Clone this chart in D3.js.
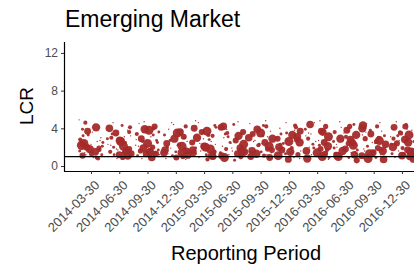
<!DOCTYPE html>
<html>
<head>
<meta charset="utf-8">
<script src="https://cdn.jsdelivr.net/npm/d3@7"></script>
<style>
  body { margin: 0; background: #fff; }
  text { font-family: "Liberation Sans", Arial, sans-serif; }
</style>
</head>
<body>
<div id="chart"></div>
<script>
var w = 414, h = 265;

// reporting periods (x categories)
var periods = ["2014-03-30","2014-06-30","2014-09-30","2014-12-30","2015-03-30","2015-06-30",
               "2015-09-30","2015-12-30","2016-03-30","2016-06-30","2016-09-30","2016-12-30"];
var yTicks = [0, 4, 8, 12];
var threshold = 1;

// LCR values per period
var lcr = [
  [4.9,4.6,4.1,3.9,3.6,3.3,3.0,2.8,2.6,2.4,2.2,2.1,2.0,1.9,1.8,1.7,1.6,1.5,1.4,1.3,1.2,1.1,0.9,0.8,3.7,2.5,1.9,1.6,4.4,3.2,2.7,1.2,0.9,2.3],
  [4.3,4.0,3.8,3.5,3.2,3.0,2.7,2.5,2.3,2.1,2.0,1.8,1.7,1.6,1.5,1.4,1.3,1.2,1.1,1.0,0.9,3.4,2.6,1.8,1.4,4.1,2.2,1.2,4.6,3.1,2.9,1.9,0.8,3.6],
  [4.5,4.2,3.9,3.6,3.4,3.1,2.9,2.7,2.4,2.2,2.0,1.9,1.7,1.6,1.5,1.4,1.3,1.2,1.1,0.9,0.8,3.8,2.5,1.6,4.0,2.8,1.5,1.3,4.7,3.3,2.1,1.0,3.7,2.6],
  [4.2,3.9,3.6,3.3,3.1,2.9,2.6,2.4,2.2,2.1,1.9,1.8,1.7,1.5,1.4,1.3,1.2,1.1,1.0,0.8,3.5,2.7,1.6,4.4,2.3,1.4,3.0,0.9,4.6,3.8,2.0,1.2,2.8,0.7],
  [4.6,4.3,4.0,3.7,3.5,3.2,3.0,2.8,2.5,2.3,2.1,1.9,1.8,1.6,1.5,1.4,1.2,1.1,0.9,0.7,3.6,2.6,1.7,4.1,2.0,1.3,3.3,1.0,4.8,3.9,2.4,1.5,2.9,1.1],
  [4.4,4.1,3.8,3.5,3.2,3.0,2.7,2.5,2.3,2.1,1.9,1.8,1.6,1.5,1.4,1.3,1.2,1.0,0.9,0.6,3.6,2.4,1.7,4.2,2.9,1.5,3.1,1.1,4.7,3.4,2.6,1.9,0.8,3.9],
  [4.5,4.2,3.9,3.7,3.4,3.2,2.9,2.7,2.5,2.3,2.1,1.9,1.8,1.6,1.5,1.4,1.3,1.1,1.0,0.8,3.5,2.6,1.7,4.3,3.0,1.2,2.2,0.9,4.8,3.6,2.4,1.5,3.1,1.0],
  [4.3,4.0,3.7,3.5,3.3,3.0,2.8,2.6,2.4,2.2,2.0,1.9,1.7,1.6,1.5,1.3,1.2,1.1,0.9,0.7,3.4,2.5,1.8,4.1,2.9,1.4,3.1,1.0,4.6,3.8,2.3,1.6,0.8,2.7],
  [4.6,4.2,3.9,3.6,3.4,3.1,2.9,2.7,2.5,2.3,2.1,2.0,1.8,1.6,1.5,1.4,1.2,1.1,0.9,0.8,3.7,2.6,1.7,4.4,2.2,1.3,3.2,1.0,4.8,3.5,2.8,1.9,1.2,0.7],
  [4.4,4.1,3.8,3.6,3.3,3.0,2.8,2.6,2.4,2.2,2.0,1.8,1.7,1.6,1.4,1.3,1.2,1.0,0.9,0.6,3.5,2.5,1.9,4.2,2.9,1.5,3.1,1.1,4.7,3.7,2.3,1.4,0.8,2.7],
  [4.5,4.2,4.0,3.7,3.4,3.2,2.9,2.7,2.5,2.3,2.1,1.9,1.8,1.6,1.5,1.3,1.2,1.1,0.9,0.7,3.6,2.6,1.7,4.3,3.0,1.4,2.2,0.8,4.6,3.8,2.4,1.6,1.0,3.3],
  [4.4,4.1,3.8,3.5,3.3,3.1,2.8,2.6,2.4,2.2,2.0,1.9,1.7,1.6,1.4,1.3,1.2,1.0,0.9,0.7,3.6,2.5,1.8,4.2,2.9,1.5,3.2,1.1,4.7,3.9,2.3,1.7,0.8,2.7]
];

// horizontal jitter inside each period (fraction of a period)
var jitter = [
  [-0.42,-0.2,0.18,-0.3,0.05,-0.1,0.35,-0.38,0.22,-0.25,-0.33,0.4,-0.15,0.1,-0.05,0.3,-0.4,0.15,-0.22,0.02,0.38,-0.3,0.08,0.25,-0.12,0.42,0.28,-0.02,0.12,-0.28,0.32,-0.18,0.2,0.0],
  [0.1,-0.35,0.3,-0.12,0.4,-0.28,0.02,0.22,-0.4,0.15,-0.2,0.35,-0.05,0.25,-0.32,0.08,0.42,-0.18,0.3,-0.38,0.12,-0.25,0.05,-0.1,0.2,0.38,-0.3,0.0,-0.22,0.18,-0.42,0.28,-0.08,0.35],
  [-0.3,0.25,-0.1,0.4,-0.38,0.12,-0.22,0.32,0.0,-0.42,0.18,-0.15,0.38,-0.28,0.08,0.28,-0.05,0.42,-0.35,0.15,-0.2,0.05,0.35,-0.25,0.22,-0.4,0.1,0.3,-0.12,0.2,-0.32,0.4,0.02,-0.18],
  [0.35,-0.25,0.15,-0.4,0.28,-0.05,0.4,-0.32,0.08,0.22,-0.18,0.32,-0.38,0.0,0.18,-0.28,0.42,-0.12,0.25,-0.35,0.05,-0.2,0.38,-0.08,0.12,-0.42,0.3,0.02,-0.15,0.22,-0.3,0.1,-0.22,0.35],
  [-0.2,0.38,-0.35,0.1,-0.05,0.3,-0.25,0.18,-0.42,0.4,0.0,-0.3,0.22,-0.12,0.35,-0.38,0.08,0.28,-0.18,0.12,-0.08,0.25,-0.4,0.42,0.05,-0.28,0.15,0.32,-0.3,0.2,-0.15,0.38,-0.02,0.1],
  [0.05,-0.4,0.32,-0.18,0.22,-0.3,0.12,-0.08,0.4,-0.35,0.28,-0.22,0.0,0.35,-0.42,0.18,-0.12,0.3,-0.28,0.08,0.38,-0.05,0.25,-0.32,0.15,0.42,-0.15,-0.38,0.2,-0.25,0.1,-0.02,0.3,-0.2],
  [-0.38,0.2,-0.12,0.35,-0.28,0.08,0.42,-0.2,0.15,-0.05,0.3,-0.4,0.25,-0.3,0.02,0.38,-0.15,0.12,-0.35,0.28,0.0,-0.25,0.4,0.1,-0.42,0.22,-0.08,0.32,0.18,-0.22,0.05,-0.35,0.25,-0.1],
  [0.22,-0.32,0.4,-0.08,0.12,-0.42,0.28,0.0,-0.2,0.35,-0.35,0.1,-0.25,0.42,0.05,-0.12,0.32,-0.38,0.18,-0.02,-0.28,0.38,-0.15,0.25,-0.4,0.08,0.3,-0.22,-0.1,0.2,-0.3,0.15,0.38,-0.05],
  [-0.1,0.3,-0.42,0.2,-0.22,0.4,-0.32,0.05,0.25,-0.15,0.38,-0.28,0.12,-0.38,0.32,0.0,-0.2,0.22,0.42,-0.35,0.15,-0.05,0.35,-0.25,0.08,0.28,-0.4,0.18,0.1,-0.3,0.25,-0.12,0.02,0.4],
  [0.3,-0.15,0.05,-0.38,0.38,-0.22,0.18,-0.42,0.1,0.28,-0.3,0.0,0.42,-0.1,0.2,-0.35,0.32,-0.25,0.12,0.4,-0.05,0.25,-0.4,0.15,-0.18,0.35,0.02,-0.3,-0.2,0.1,-0.32,0.22,0.38,-0.08],
  [-0.25,0.12,-0.4,0.28,-0.1,0.38,-0.3,0.2,-0.05,0.42,-0.22,0.15,-0.35,0.32,0.0,-0.15,0.25,-0.42,0.08,0.35,-0.28,0.1,0.3,-0.38,0.18,-0.02,0.4,-0.2,0.22,-0.12,0.05,-0.32,0.28,-0.4],
  [0.15,-0.28,0.35,-0.05,0.25,-0.4,0.1,0.42,-0.18,0.3,-0.32,0.02,0.2,-0.12,0.38,-0.35,0.05,0.28,-0.25,0.4,-0.08,0.22,-0.42,0.12,-0.3,0.32,-0.15,0.0,-0.2,0.18,-0.38,0.08,0.3,-0.1]
];

// bubble size (relative exposure)
var size = [
  [1,3,8,2,1,2,1,3,1,9,10,2,6,1,8,3,2,7,1,4,2,5,1,3,6,2,4,1,1,2,1,1,3,1],
  [2,7,1,6,1,3,8,2,1,9,2,5,1,7,3,1,6,2,8,1,4,2,9,1,5,3,1,6,1,1,2,1,1,3],
  [1,5,8,2,3,1,6,2,9,1,4,7,2,1,8,3,6,1,2,7,1,9,2,4,3,1,6,5,1,2,1,1,1,2],
  [3,1,7,2,5,8,1,6,2,9,1,3,7,2,6,1,8,2,4,1,9,2,6,1,3,7,2,5,1,1,2,1,1,1],
  [1,2,6,9,1,3,8,2,5,1,7,2,9,1,4,6,2,8,1,3,5,1,7,2,9,1,3,6,1,1,1,2,1,1],
  [2,6,1,3,8,1,5,2,9,1,7,3,1,8,2,6,1,4,9,2,5,1,3,7,1,8,2,6,1,2,1,1,1,1],
  [1,3,7,1,5,2,8,1,6,2,9,1,4,7,2,1,8,3,6,2,9,1,5,2,7,1,3,6,1,1,1,2,1,1],
  [3,1,6,2,8,1,5,9,2,1,7,3,6,1,8,2,4,9,1,6,2,8,1,3,5,2,7,1,1,1,2,1,1,1],
  [1,4,2,7,1,9,3,1,6,2,8,1,5,7,2,9,1,4,2,8,6,1,3,7,2,5,1,9,1,1,1,2,1,1],
  [2,1,6,3,8,1,7,2,4,9,1,6,2,8,1,3,7,9,2,5,1,6,2,4,8,1,3,7,1,1,1,1,2,1],
  [1,3,8,1,6,2,4,9,1,7,2,5,1,8,3,9,1,6,2,7,1,4,2,8,3,6,1,9,1,2,1,1,1,1],
  [2,6,1,4,9,1,7,2,5,1,8,3,6,1,9,2,4,7,1,6,2,8,1,5,3,9,2,7,1,1,2,1,1,1]
];

var margin = {left: 64, top: 42, bottom: 171};
var step = 28.27;

var svg = d3.select('#chart').append('svg')
  .attr('width', w)
  .attr('height', h);

var x = d3.scaleLinear()
  .domain([0, periods.length - 1])
  .range([91, 91 + step * (periods.length - 1)]);

var y = d3.scaleLinear()
  .domain([-0.53, 13.16])
  .range([margin.bottom, margin.top]);

var r = d3.scaleSqrt().domain([1, 10]).range([0.7, 4.8]);

// flatten to points
var pts = [];
periods.forEach(function(p, i) {
  lcr[i].forEach(function(v, j) {
    pts.push({i: i, v: v, j: jitter[i][j], s: size[i][j]});
  });
});

svg.append('defs').append('clipPath').attr('id', 'clip')
  .append('rect')
  .attr('x', margin.left).attr('y', margin.top)
  .attr('width', w - margin.left).attr('height', margin.bottom - margin.top);

svg.append('g').attr('clip-path', 'url(#clip)')
  .selectAll('circle')
  .data(pts)
  .enter().append('circle')
  .attr('cx', function(d) { return x(d.i + d.j); })
  .attr('cy', function(d) { return y(d.v); })
  .attr('r', function(d) { return r(d.s); })
  .style('fill', '#a52a2a')
  .style('opacity', 0.95);

// threshold line
svg.append('line')
  .attr('x1', margin.left).attr('x2', w)
  .attr('y1', y(threshold)).attr('y2', y(threshold))
  .style('stroke', '#000').style('stroke-width', 1.3);

// y axis
var yAxis = svg.append('g')
  .attr('transform', 'translate(' + margin.left + ',0)')
  .call(d3.axisLeft(y).tickValues(yTicks).tickSize(3).tickPadding(3));
yAxis.select('.domain').attr('d', 'M0.5,' + margin.top + 'V' + (margin.bottom + 0.5))
  .style('stroke', '#000').style('stroke-width', 1.2);
yAxis.selectAll('.tick line').style('stroke', '#333');
yAxis.selectAll('.tick text').style('font-size', '12px').style('fill', '#4d4d4d')
  .style('font-family', '"Liberation Sans", Arial, sans-serif');

// x axis
var xAxis = svg.append('g')
  .attr('transform', 'translate(0,' + margin.bottom + ')')
  .call(d3.axisBottom(x).tickValues(d3.range(periods.length))
    .tickFormat(function(i) { return periods[i]; }).tickSize(3).tickPadding(2));
xAxis.select('.domain').attr('d', 'M' + margin.left + ',0.5H' + w)
  .style('stroke', '#000').style('stroke-width', 1.2);
xAxis.selectAll('.tick line').style('stroke', '#333');
xAxis.selectAll('.tick text')
  .style('font-size', '13px').style('fill', '#4d4d4d')
  .style('font-family', '"Liberation Sans", Arial, sans-serif')
  .attr('text-anchor', 'end')
  .attr('dy', '0.35em')
  .attr('transform', 'translate(2,8) rotate(-45)');

// titles
svg.append('text')
  .attr('x', 65).attr('y', 27)
  .style('font-size', '23px').style('fill', '#000')
  .text('Emerging Market');

svg.append('text')
  .attr('transform', 'translate(33,106) rotate(-90)')
  .attr('text-anchor', 'middle')
  .style('font-size', '19px').style('fill', '#000')
  .text('LCR');

svg.append('text')
  .attr('x', 246).attr('y', 260)
  .attr('text-anchor', 'middle')
  .style('font-size', '20px').style('fill', '#000')
  .text('Reporting Period');
</script>
</body>
</html>
